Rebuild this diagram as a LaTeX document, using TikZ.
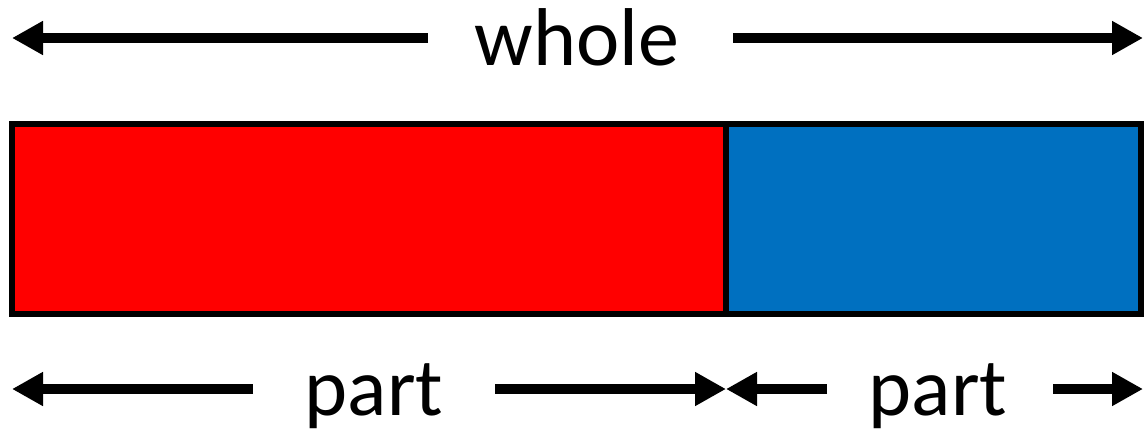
\documentclass[tikz,border=0pt]{standalone}
\usepackage{fontspec}
\setmainfont{Carlito}
\usetikzlibrary{arrows.meta}
\definecolor{partred}{RGB}{255,0,0}
\definecolor{partblue}{RGB}{0,112,192}
\tikzset{
  span/.style={line width=10.5pt, -{Triangle[length=31pt,width=32pt]}},
  barpart/.style={draw=black, line width=6pt},
  label/.style={font=\fontsize{82}{90}\selectfont, anchor=base, inner sep=0pt}
}
\begin{document}
\begin{tikzpicture}[x=1pt,y=-1pt]
\useasboundingbox (0,0) rectangle (1145,434);

% the bar, split into two parts
\path[barpart, fill=partred] (12,124) rectangle (726,314);
\path[barpart, fill=partblue] (726,124) rectangle (1141,314);

% top span: whole
\node[label] (whole) at (577,65) {whole};
\coordinate (wL1) at (428,38);
\coordinate (wL2) at (12,38);
\coordinate (wR1) at (733,38);
\coordinate (wR2) at (1143,38);
\draw[span] (wL1) -- (wL2);
\draw[span] (wR1) -- (wR2);

% bottom spans: part and part
\node[label] (partA) at (374,415) {part};
\node[label] (partB) at (938,415) {part};
\coordinate (aL1) at (253,389);
\coordinate (aL2) at (12,389);
\coordinate (aR1) at (495,389);
\coordinate (mid) at (726,389);
\coordinate (bL1) at (827,389);
\coordinate (bR1) at (1053,389);
\coordinate (bR2) at (1143,389);
\draw[span] (aL1) -- (aL2);
\draw[span] (aR1) -- (mid);
\draw[span] (bL1) -- (mid);
\draw[span] (bR1) -- (bR2);
\end{tikzpicture}
\end{document}
